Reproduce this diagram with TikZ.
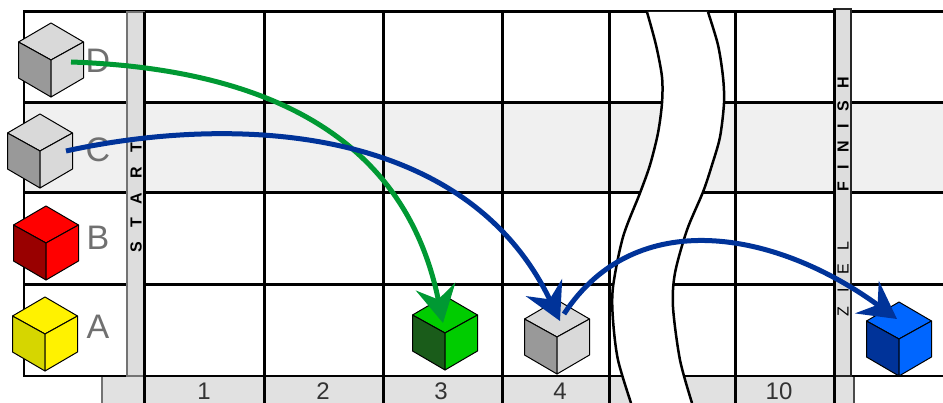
\documentclass[tikz,border=0pt]{standalone}
\usepackage{fontspec}
\setmainfont{Liberation Sans}
\newfontfamily\startfont[LetterSpace=90]{Liberation Sans}
\newfontfamily\finishfont[LetterSpace=78]{Liberation Sans}
\newfontfamily\zielfont[LetterSpace=85]{Liberation Sans}
\usepackage{tikz}
\usetikzlibrary{arrows.meta, positioning, calc}
\definecolor{rowgray}{RGB}{240, 240, 240}
\definecolor{bandgray}{RGB}{221, 221, 221}
\definecolor{stripgray}{RGB}{225, 225, 225}
\definecolor{labelgray}{RGB}{112, 112, 112}
\definecolor{leapgreen}{RGB}{0, 153, 51}
\definecolor{leapblue}{RGB}{0, 51, 153}
\definecolor{cubelight}{RGB}{217, 217, 217}
\definecolor{cubeshade}{RGB}{153, 153, 153}
\definecolor{cubedarkred}{RGB}{153, 0, 0}
\definecolor{cubedarkyellow}{RGB}{214, 214, 0}
\definecolor{cubegreen}{RGB}{0, 204, 0}
\definecolor{cubedarkgreen}{RGB}{26, 92, 26}
\definecolor{cubeblue}{RGB}{0, 102, 255}
\definecolor{cubedarkblue}{RGB}{0, 51, 153}
\tikzset{
  gridline/.style={line width=3pt, black},
  edgeline/.style={line width=2.5pt, black},
  breakline/.style={line width=2.5pt, black},
  rowlabel/.style={font=\fontsize{34}{34}\selectfont, text=labelgray, inner sep=0pt},
  fieldlabel/.style={font=\fontsize{24}{24}\selectfont, text=black!80, inner sep=0pt},
  bandlabel/.style={rotate=90, inner sep=0pt},
  cubeface/.style={draw=black, line width=1pt, line join=round},
  greenleap/.style={-{Stealth[length=37pt, width=40pt, inset=13pt]}, line width=5pt, leapgreen},
  blueleap/.style={-{Stealth[length=37pt, width=40pt, inset=13pt]}, line width=5pt, leapblue}
}
\newcommand{\drawcube}[6]{%
  \coordinate (#1) at (#2, #3);
  \begin{scope}[shift={(#1)}]
    \filldraw[cubeface, fill=#4] (0, 0) -- (-32.5, -18) -- (0, -37) -- (32.5, -18) -- cycle;
    \filldraw[cubeface, fill=#5] (0, 0) -- (-32.5, -18) -- (-32.5, 18) -- (0, 37) -- cycle;
    \filldraw[cubeface, fill=#6] (0, 0) -- (32.5, -18) -- (32.5, 18) -- (0, 37) -- cycle;
  \end{scope}
}

\begin{document}
\begin{tikzpicture}[x=1pt, y=-1pt]
  \useasboundingbox (0, 0) rectangle (943, 403);

  % ── Shaded row C and number strip ─────────────────────────────────────────
  \fill[rowgray] (24, 103) rectangle (943, 193);
  \fill[stripgray] (102, 376) rectangle (854, 403);
  \draw[line width=1.5pt, black!55] (102, 403) -- (102, 376);
  \draw[line width=2pt, black!70] (854, 403) -- (854, 376);

  % ── Grid ──────────────────────────────────────────────────────────────────
  \foreach \ypos in {12, 103, 193, 285} {
    \draw[gridline] (24, \ypos) -- (943, \ypos);
  }
  \draw[edgeline] (24, 376) -- (943, 376);
  \draw[edgeline] (24, 10.5) -- (24, 377);
  \foreach \xpos in {144, 264, 383, 502, 609, 735} {
    \draw[gridline] (\xpos, 12) -- (\xpos, 403);
  }

  % ── START and FINISH bands ────────────────────────────────────────────────
  \filldraw[fill=bandgray, draw=black!55, line width=1.5pt] (127, 12) rectangle (144, 376);
  \draw[gridline] (144, 12) -- (144, 403);
  \filldraw[fill=bandgray, draw=black!85, line width=2.5pt] (834, 9) rectangle (851, 376);
  \draw[gridline] (834, 9) -- (834, 403);
  \node[bandlabel, font=\startfont\bfseries\fontsize{16}{16}\selectfont] (startword) at (136, 198) {START};
  \node[bandlabel, font=\finishfont\bfseries\fontsize{16}{16}\selectfont] (finishword) at (843, 134) {FINISH};
  \node[bandlabel, font=\zielfont\fontsize{16}{16}\selectfont] (zielword) at (843, 279) {ZIEL};

  % ── Break in the track ────────────────────────────────────────────────────
  \def\breakleft{(647,12) (656,45) (662,77) (662,103) (658,133) (650,165) (640,193) (623,237) (613,287) (613,320) (618,360) (631,403)}
  \def\breakright{(708,12) (718,45) (723,77) (724,103) (720,137) (712,165) (703,192) (687,230) (675,273) (673,307) (680,360) (692,403)}
  \fill[white] plot[smooth] coordinates {\breakleft} -- (692,403) -- plot[smooth] coordinates {(692,403) (680,360) (673,307) (675,273) (687,230) (703,192) (712,165) (720,137) (724,103) (723,77) (718,45) (708,12)} -- cycle;
  \draw[breakline] plot[smooth] coordinates {\breakleft};
  \draw[breakline] plot[smooth] coordinates {\breakright};

  % ── Field numbers ─────────────────────────────────────────────────────────
  \foreach \fieldnum/\xpos in {1/204, 2/323, 3/441, 4/560, 10/779} {
    \node[fieldlabel] (field\fieldnum) at (\xpos, 391) {\fieldnum};
  }

  % ── Row letters ───────────────────────────────────────────────────────────
  \foreach \rowname/\ypos in {A/327, B/238, C/150, D/61} {
    \node[rowlabel] (label\rowname) at (98, \ypos) {\rowname};
  }

  % ── Cubes ─────────────────────────────────────────────────────────────────
  \drawcube{cubeD}{51}{60}{cubelight}{cubeshade}{cubelight}
  \drawcube{cubeC}{40}{151}{cubelight}{cubeshade}{cubelight}
  \drawcube{cubeB}{46}{243}{red}{cubedarkred}{red}
  \drawcube{cubeA}{45}{334}{yellow}{cubedarkyellow}{yellow}
  \drawcube{cubeThree}{445}{333}{cubegreen}{cubedarkgreen}{cubegreen}
  \drawcube{cubeFour}{557}{337}{cubelight}{cubeshade}{cubelight}
  \drawcube{cubeGoal}{899}{339}{cubeblue}{cubedarkblue}{cubeblue}

  % ── Leaps ─────────────────────────────────────────────────────────────────
  \coordinate (fromD) at ($(cubeD)+(20, 2)$);
  \coordinate (fromC) at ($(cubeC)+(26, 0)$);
  \coordinate (fromFour) at ($(cubeFour)+(7, -23)$);
  \coordinate (intoThree) at ($(cubeThree)+(-2, -10)$);
  \coordinate (intoFour) at ($(cubeFour)+(3, -16)$);
  \coordinate (intoGoal) at ($(cubeGoal)+(-2, -20)$);
  \draw[greenleap] (fromD) .. controls (300, 70) and (410, 160) .. (intoThree);
  \draw[blueleap] (fromC) .. controls (230, 115) and (465, 122) .. (intoFour);
  \draw[blueleap] (fromFour) .. controls (635, 205) and (775, 230) .. (intoGoal);
\end{tikzpicture}
\end{document}
